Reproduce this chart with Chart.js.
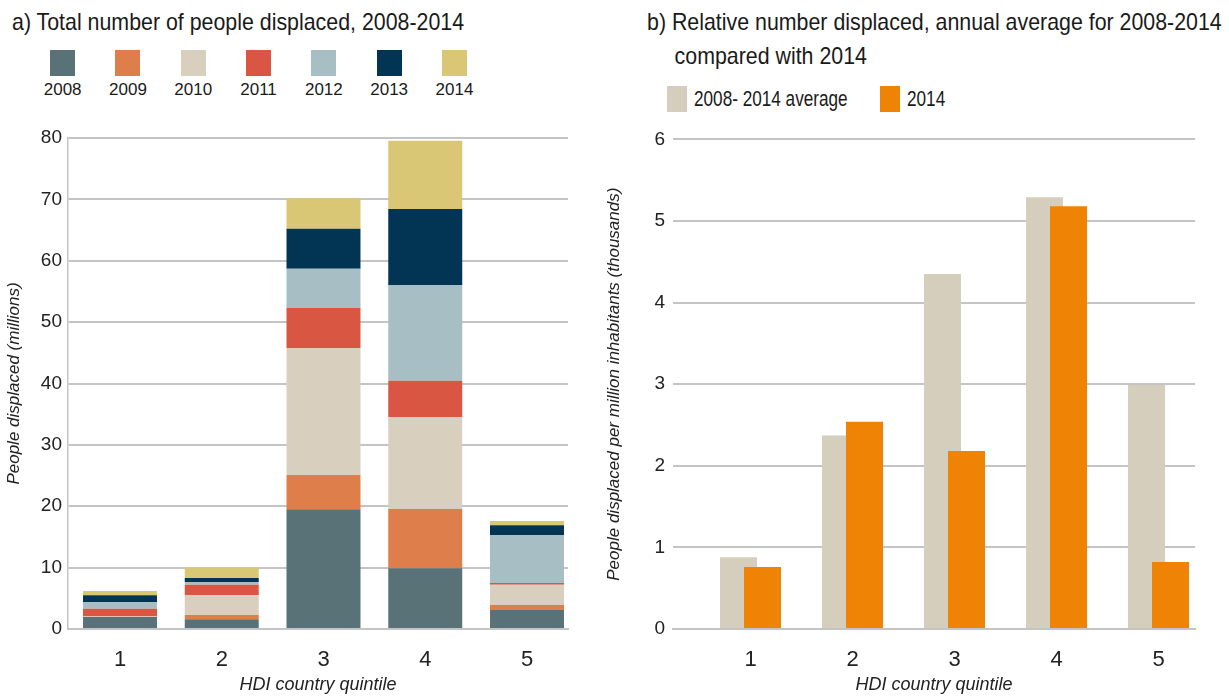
<!DOCTYPE html>
<html lang="en">
<head>
<meta charset="UTF-8">
<title>People displaced by HDI quintile</title>
<script src="https://cdn.jsdelivr.net/npm/chart.js"></script>
<style>
    body {
        margin: 0;
        width: 1229px;
        height: 700px;
        background: #fff;
        font-family: "Liberation Sans Narrow", "Arial Narrow", "Liberation Sans", sans-serif;
        color: #1a1a1a;
        position: relative;
        overflow: hidden;
    }
    .title {
        position: absolute;
        font-size: 24px;
        line-height: 34px;
        white-space: nowrap;
        transform: scaleX(0.89);
        transform-origin: left top;
    }
    #titleA { left: 12px; top: 5px; }
    #titleB { left: 647px; top: 5px; }
    #titleB span { display: block; padding-left: 31px; }
    #legendA {
        position: absolute;
        left: 30px;
        top: 50px;
        display: flex;
    }
    #legendA .item { width: 65.3px; text-align: center; font-size: 17px; }
    #legendA .box { width: 25px; height: 26px; margin: 0 auto 4px; }
    #legendB .item {
        position: absolute;
        top: 86px;
        font-size: 22px;
        line-height: 26px;
        white-space: nowrap;
    }
    #legendB .box { position: absolute; left: 0; top: 0; width: 20px; height: 26px; }
    #legendB .txt {
        position: absolute; left: 27px; top: 0;
        transform: scaleX(0.78);
        transform-origin: left top;
    }
    .wrap { position: absolute; top: 120px; height: 580px; }
    #wrapA { left: 0; width: 590px; }
    #wrapB { left: 600px; width: 629px; }
</style>
</head>
<body>
    <div class="title" id="titleA">a) Total number of people displaced, 2008-2014</div>
    <div class="title" id="titleB">b) Relative number displaced, annual average for 2008-2014<span>compared with 2014</span></div>
    <div id="legendA"></div>
    <div id="legendB"></div>
    <div class="wrap" id="wrapA"><canvas id="chartA"></canvas></div>
    <div class="wrap" id="wrapB"><canvas id="chartB"></canvas></div>

<script>
    // quintiles on the x axis (both panels)
    const quintiles = ['1', '2', '3', '4', '5'];

    // panel a: millions displaced per year, one value per quintile
    const years = ['2008', '2009', '2010', '2011', '2012', '2013', '2014'];
    const d2008 = [1.95, 1.6, 19.5, 9.9, 3.1];
    const d2009 = [0.05, 0.7, 5.6, 9.65, 0.8];
    const d2010 = [0.1, 3.2, 20.7, 15.0, 3.3];
    const d2011 = [1.2, 1.7, 6.5, 5.9, 0.3];
    const d2012 = [1.1, 0.45, 6.4, 15.6, 7.8];
    const d2013 = [1.1, 0.65, 6.5, 12.4, 1.6];
    const d2014 = [0.7, 1.7, 5.0, 11.1, 0.7];
    const yearColors = ['#587278', '#de7f4b', '#d8cfbe', '#d95643', '#a7bfc4', '#023453', '#d9c775'];

    // panel b: thousands displaced per million inhabitants
    const seriesB = ['2008- 2014 average', '2014'];
    const avg0814 = [0.88, 2.37, 4.35, 5.29, 2.99];
    const only2014 = [0.76, 2.54, 2.18, 5.18, 0.82];
    const colorsB = ['#d6cebd', '#ef8305'];

    const FONT = '"Liberation Sans Narrow", "Arial Narrow", "Liberation Sans", sans-serif';
    const GRID = '#c4c4c4';
    const xs = quintiles.map(Number);
    const toPoints = arr => arr.map((v, i) => ({ x: xs[i], y: v }));
    const integerTicks = scale => { scale.ticks = xs.map(v => ({ value: v })); };

    // html legends
    const legA = document.getElementById('legendA');
    years.forEach((y, i) => {
        legA.insertAdjacentHTML('beforeend',
            `<div class="item"><div class="box" style="background:${yearColors[i]}"></div>${y}</div>`);
    });
    const legB = document.getElementById('legendB');
    const legBLeft = [667, 880];
    seriesB.forEach((s, i) => {
        legB.insertAdjacentHTML('beforeend',
            `<div class="item" style="left:${legBLeft[i]}px"><div class="box" style="background:${colorsB[i]}"></div><span class="txt">${s}</span></div>`);
    });

    Chart.defaults.font.family = FONT;
    Chart.defaults.color = '#222';
    Chart.defaults.animation = false;

    const yearData = [d2008, d2009, d2010, d2011, d2012, d2013, d2014];

    new Chart(document.getElementById('chartA'), {
        type: 'bar',
        data: {
            datasets: years.map((y, i) => ({
                label: y,
                data: toPoints(yearData[i]),
                backgroundColor: yearColors[i],
                categoryPercentage: 1,
                barPercentage: 0.727
            }))
        },
        options: {
            responsive: true,
            maintainAspectRatio: false,
            layout: { padding: { top: 18, right: 22, left: 0, bottom: 0 } },
            plugins: { legend: { display: false }, tooltip: { enabled: false } },
            scales: {
                x: {
                    type: 'linear',
                    stacked: true,
                    offset: false,
                    min: 0.489,
                    max: 5.403,
                    afterBuildTicks: integerTicks,
                    afterFit: s => { s.height = 71; },
                    grid: { display: false },
                    border: { display: true, color: GRID, width: 2 },
                    ticks: { font: { size: 22 }, padding: 10, callback: v => quintiles[xs.indexOf(v)] },
                    title: { display: true, text: 'HDI country quintile', font: { size: 18, style: 'italic' }, padding: { top: 6 } }
                },
                y: {
                    stacked: true,
                    min: 0,
                    max: 80,
                    afterFit: s => { s.width = 68; },
                    grid: { color: GRID, lineWidth: 2, drawTicks: false },
                    border: { display: true, color: GRID, width: 1.5 },
                    ticks: { stepSize: 10, font: { size: 19 }, padding: 6 },
                    title: { display: true, text: 'People displaced (millions)', font: { size: 17, style: 'italic' }, padding: { bottom: 4 } }
                }
            }
        }
    });

    // the two series overlap: each sits on its own (shifted) x scale, 2014 drawn on top
    new Chart(document.getElementById('chartB'), {
        type: 'bar',
        data: {
            datasets: [
                {
                    label: seriesB[0],
                    data: toPoints(avg0814),
                    backgroundColor: colorsB[0],
                    xAxisID: 'x',
                    order: 1,
                    grouped: false,
                    categoryPercentage: 1,
                    barPercentage: 0.363
                },
                {
                    label: seriesB[1],
                    data: toPoints(only2014),
                    backgroundColor: colorsB[1],
                    xAxisID: 'x2',
                    order: 0,
                    grouped: false,
                    categoryPercentage: 1,
                    barPercentage: 0.363
                }
            ]
        },
        options: {
            responsive: true,
            maintainAspectRatio: false,
            layout: { padding: { top: 17, right: 34, left: 0, bottom: 0 } },
            plugins: { legend: { display: false }, tooltip: { enabled: false } },
            scales: {
                x: {
                    type: 'linear',
                    offset: false,
                    min: 0.358,
                    max: 5.475,
                    afterBuildTicks: scale => { scale.ticks = xs.map(v => ({ value: v + 0.118 })); },
                    afterFit: s => { s.height = 71; },
                    grid: { display: false },
                    border: { display: true, color: GRID, width: 2 },
                    ticks: { font: { size: 22 }, padding: 10, callback: v => quintiles[Math.round(v - 0.118) - 1] },
                    title: { display: true, text: 'HDI country quintile', font: { size: 18, style: 'italic' }, padding: { top: 6 } }
                },
                x2: {
                    type: 'linear',
                    display: false,
                    offset: false,
                    min: 0.1225,
                    max: 5.240,
                    afterBuildTicks: integerTicks
                },
                y: {
                    min: 0,
                    max: 6,
                    afterFit: s => { s.width = 73; },
                    grid: { color: GRID, lineWidth: 2, drawTicks: false },
                    border: { display: false },
                    ticks: { stepSize: 1, font: { size: 19 }, padding: 8 },
                    title: { display: true, text: 'People displaced per million inhabitants (thousands)', font: { size: 17, style: 'italic' }, padding: { bottom: 2 } }
                }
            }
        }
    });
</script>
</body>
</html>
